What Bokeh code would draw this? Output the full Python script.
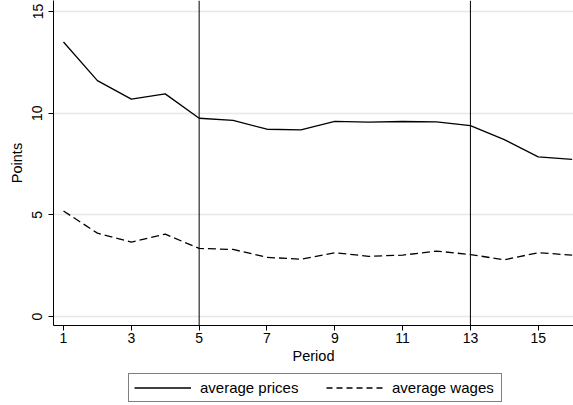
from bokeh.plotting import figure
from bokeh.layouts import column
from bokeh.models import Span, Legend, LegendItem, Range1d, FixedTicker
from bokeh.embed import file_html
from bokeh.resources import INLINE

periods = list(range(1, 17))
avg_prices = [13.5, 11.6, 10.69, 10.95, 9.75, 9.65, 9.21, 9.18, 9.6, 9.56, 9.59, 9.57, 9.39, 8.7, 7.85, 7.73]
avg_wages = [5.19, 4.1, 3.66, 4.05, 3.35, 3.3, 2.91, 2.82, 3.14, 2.96, 3.02, 3.22, 3.05, 2.79, 3.14, 3.02]
x_ticks = [1, 3, 5, 7, 9, 11, 13, 15]
y_ticks = [0, 5, 10, 15]
break_periods = [5, 13]
labels = ["average prices", "average wages"]

FONT = "Liberation Sans"
DASH = "8 4"
NAN = float("nan")

p = figure(width=573, height=368, output_backend="svg", toolbar_location=None,
           x_range=Range1d(0.705, 16.04), y_range=Range1d(-0.44, 15.54),
           min_border_left=53, min_border_top=0, min_border_right=0, min_border_bottom=43)
p.outline_line_color = None
p.background_fill_color = "white"
p.border_fill_color = "white"

p.xgrid.grid_line_color = None
p.ygrid.grid_line_color = "#e8e8e8"
p.ygrid.grid_line_width = 1.5

p.xaxis.ticker = FixedTicker(ticks=x_ticks)
p.yaxis.ticker = FixedTicker(ticks=y_ticks)
for ax in (p.xaxis, p.yaxis):
    ax.minor_tick_line_color = None
    ax.major_tick_in = 0
    ax.major_tick_out = 5
    ax.axis_line_color = "black"
    ax.major_tick_line_color = "black"
    ax.major_label_text_font = FONT
    ax.major_label_text_font_size = "14px"
    ax.major_label_text_color = "black"
    ax.axis_label_text_font = FONT
    ax.axis_label_text_font_size = "14.5px"
    ax.axis_label_text_font_style = "normal"
    ax.axis_label_text_color = "black"

p.xaxis.axis_label = "Period"
p.yaxis.axis_label = "Points"
p.yaxis.major_label_orientation = "vertical"
p.xaxis.major_label_standoff = 2
p.xaxis.axis_label_standoff = 2
p.yaxis.major_label_standoff = 6
p.yaxis.axis_label_standoff = 5

for bp in break_periods:
    p.add_layout(Span(location=bp, dimension="height", line_color="black", line_width=1))

p.line(periods, avg_prices, line_color="black", line_width=1.3)
p.line(periods, avg_wages, line_color="black", line_width=1.3, line_dash=DASH)

# legend strip below the chart (key samples only, no data drawn)
lg = figure(width=573, height=37, output_backend="svg", toolbar_location=None,
            x_axis_location=None, y_axis_location=None,
            x_range=Range1d(0, 1), y_range=Range1d(0, 1),
            min_border_left=0, min_border_top=0, min_border_right=0, min_border_bottom=0)
lg.outline_line_color = None
lg.xgrid.grid_line_color = None
lg.ygrid.grid_line_color = None
lg.background_fill_color = "white"
lg.border_fill_color = "white"
k1 = lg.line([NAN], [NAN], line_color="black", line_width=1.3)
k2 = lg.line([NAN], [NAN], line_color="black", line_width=1.3, line_dash="6 4")
legend = Legend(items=[LegendItem(label=labels[0], renderers=[k1]),
                       LegendItem(label=labels[1], renderers=[k2])],
                orientation="horizontal", location=(75, 3),
                border_line_color="black", border_line_width=1,
                glyph_width=57, glyph_height=15, label_standoff=9, spacing=22,
                label_width=104, padding=5, margin=0,
                label_text_font=FONT, label_text_font_size="15px",
                label_text_color="black")
lg.add_layout(legend, "center")

layout = column(p, lg, spacing=0)
open("out.html", "w").write(file_html(layout, INLINE))
